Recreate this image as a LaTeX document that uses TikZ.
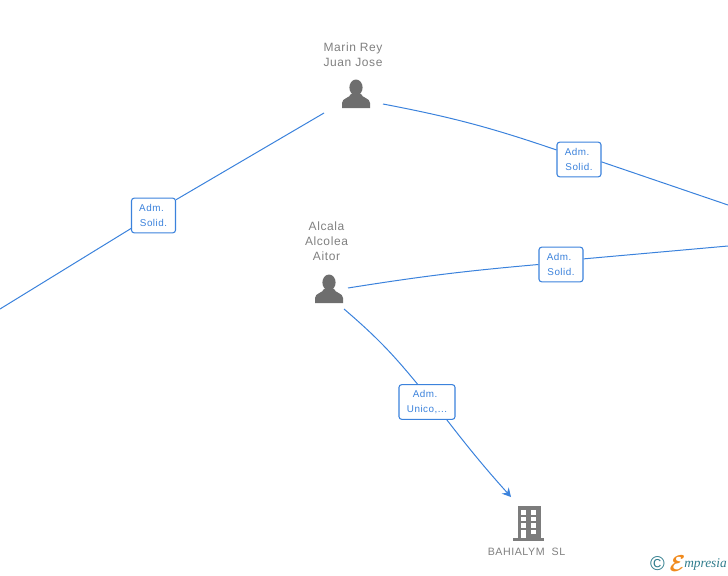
\documentclass[tikz,border=0pt]{standalone}
\usepackage{fontspec}
\setmainfont{Liberation Sans}
\newfontfamily\logofont{Liberation Serif}
\usetikzlibrary{arrows.meta}

\definecolor{wireblue}{HTML}{3B82DC}
\definecolor{labelgrey}{HTML}{808080}
\definecolor{icongrey}{HTML}{6E6E6E}
\definecolor{logoteal}{HTML}{2F7C8C}
\definecolor{logoorange}{HTML}{F08A1D}

\tikzset{
	wire/.style={draw=wireblue, line width=0.75pt},
	rolebox/.style={draw=wireblue, line width=0.8pt, fill=white, rounded corners=2pt, minimum width=33pt, minimum height=26pt, inner sep=0pt, align=center, text=wireblue, font=\fontsize{7.4}{11.2}\selectfont\addfontfeature{LetterSpace=5}},
	namelabel/.style={text=labelgrey, inner sep=0pt, align=center, font=\fontsize{9}{11.25}\selectfont\addfontfeature{LetterSpace=5}},
	person/.pic={
		\fill[icongrey] (0,-6.5) ellipse (6.6 and 8);
		\fill[icongrey] (-14,14) -- (-14,9) .. controls (-14,4) and (-6,4) .. (-5,0) -- (5,0) .. controls (6,4) and (14,4) .. (14,9) -- (14,14) -- cycle;
	}
}

\begin{document}
\begin{tikzpicture}[x=0.75pt, y=-0.75pt]
	\useasboundingbox (0,0) rectangle (728,575);

	% Free ends of the connectors
	\coordinate (marin_left) at (324,113);
	\coordinate (marin_right) at (383,104);
	\coordinate (alcala_right) at (348,288);
	\coordinate (alcala_down) at (344,309);
	\coordinate (edge_left) at (0,309);
	\coordinate (edge_right_a) at (728,205);
	\coordinate (edge_right_b) at (728,246);
	\coordinate (bahialym_top) at (511,497);

	% Persons
	\node[namelabel] (marin) at (353,55) {Marin Rey\\Juan Jose};
	\pic at (356,94) {person};
	\node[namelabel] (alcala) at (326.5,241.5) {Alcala\\Alcolea\\Aitor};
	\pic at (329,289) {person};

	% Role boxes
	\node[rolebox] (box_left) at (153.5,215.5) {Adm.\hspace*{3pt}\\Solid.};
	\node[rolebox] (box_top) at (579,159.5) {Adm.\hspace*{3pt}\\Solid.};
	\node[rolebox] (box_mid) at (561,264.5) {Adm.\hspace*{3pt}\\Solid.};
	\node[rolebox, minimum width=42pt] (box_down) at (427,402) {Adm.\hspace*{3pt}\\Unico,...};

	% Connectors
	\draw[wire] (marin_left) -- (box_left.35);
	\draw[wire] (box_left.210) -- (edge_left);
	\draw[wire] (marin_right) to[bend left=4] (box_top.157);
	\draw[wire] (box_top.-6) -- (edge_right_a);
	\draw[wire] (alcala_right) to[bend left=2] (box_mid.180);
	\draw[wire] (box_mid.14) -- (edge_right_b);
	\draw[wire] (alcala_down) to[bend left=5] (box_down.118);
	\draw[wire, -{Stealth[length=6.5pt, width=7pt]}] (box_down.-42) to[bend right=2] (bahialym_top);

	% Company
	\fill[icongrey!90!white] (517.5,506) rectangle (540.5,538);
	\fill[icongrey!90!white] (513,538) rectangle (544,540.5);
	\foreach \x in {520.7, 530.7}
		\foreach \y in {510, 516.7, 523.3}
			\fill[white] (\x,\y) rectangle ++(5.3,4.6);
	\fill[white] (520.7,530) rectangle (526,537.5);
	\fill[white] (530.7,530) rectangle (536,534.4);
	\node[namelabel, font=\fontsize{8}{10}\selectfont\addfontfeature{LetterSpace=5}] (bahialym) at (526.5,552) {BAHIALYM\ \ SL};

	% Logo
	\node[inner sep=0pt, text=logoteal, font=\fontsize{15}{15}\selectfont] (logo_c) at (657.5,564) {\textcopyright};
	\node[inner sep=0pt, text=logoorange, font=\fontsize{18}{18}\selectfont\boldmath] (logo_e) at (677.5,564) {$\mathcal{E}$};
	\node[inner sep=0pt, anchor=west, text=logoteal, font=\logofont\itshape\fontsize{10}{10}\selectfont] (logo_m) at (684,564) {mpresia};
\end{tikzpicture}
\end{document}
